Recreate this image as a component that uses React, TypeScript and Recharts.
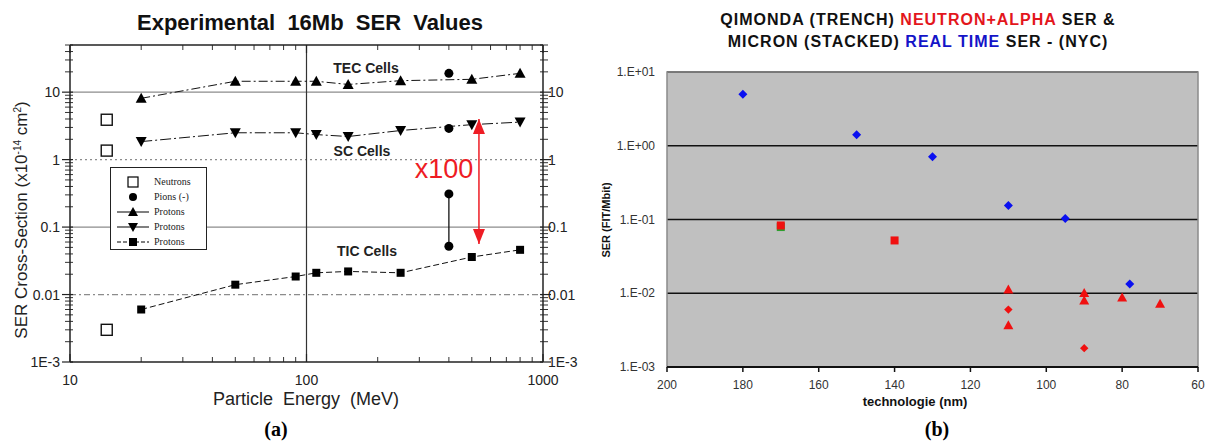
import React from 'react';
import {
  ScatterChart, Scatter, XAxis, YAxis, CartesianGrid, ReferenceLine, ReferenceArea,
} from 'recharts';

// ---- panel (a): experimental 16Mb SER values vs particle energy ----
const NEUTRON_E = [14.3, 14.3, 14.3];
const NEUTRON_SER = [3.9, 1.36, 0.003];

const PROTON_E = [20, 50, 90, 110, 150, 250, 500, 800];
const TEC_SER = [8.1, 14.5, 14.5, 14.5, 13, 14.8, 15.5, 19];
const SC_SER = [1.85, 2.5, 2.5, 2.35, 2.2, 2.7, 3.3, 3.6];
const TIC_SER = [0.006, 0.014, 0.0185, 0.021, 0.022, 0.021, 0.036, 0.046];

const PION_E = [400, 400];
const PION_SER = [19, 2.9];
const PION_TIC_SER = [0.31, 0.052];

const ARROW_E = [536, 536];
const ARROW_SER = [4.0, 0.056];

const A_X_TICKS = [10, 100, 1000];
const A_X_LABELS = ['10', '100', '1000'];
const A_Y_TICKS = [0.001, 0.01, 0.1, 1, 10];
const A_Y_LABELS = ['1E-3', '0.01', '0.1', '1', '10'];
const A_Y_GRID = [0.01, 0.1, 1, 10];
const A_GRID_DASH = ['6 3 2 3', '', '2 3', ''];
const MINOR_MULT = [2, 3, 4, 5, 6, 7, 8, 9];

// ---- panel (b): Qimonda / Micron SER vs technology node ----
const MICRON_NM = [180, 150, 130, 110, 95, 78];
const MICRON_SER = [5.0, 1.41, 0.71, 0.155, 0.103, 0.0133];
const QIM_SQ_NM = [170, 140];
const QIM_SQ_SER = [0.083, 0.052];
const GREEN_NM = [170];
const GREEN_SER = [0.079];
const QIM_TRI_NM = [110, 110, 90, 90, 80, 70];
const QIM_TRI_SER = [0.0113, 0.0037, 0.0101, 0.008, 0.0088, 0.0072];
const QIM_DIA_NM = [110, 90];
const QIM_DIA_SER = [0.006, 0.0018];

const B_X_TICKS = [200, 180, 160, 140, 120, 100, 80, 60];
const B_Y_TICKS = [0.001, 0.01, 0.1, 1, 10];
const B_Y_LABELS = ['1.E-03', '1.E-02', '1.E-01', '1.E+00', '1.E+01'];

const zip = (xs: number[], ys: number[]) => xs.map((x, i) => ({ x, y: ys[i] }));

const minors = (decades: number[], hi: number) => {
  const out: number[] = [];
  decades.forEach(d => MINOR_MULT.forEach(m => {
    const v = +(d * m).toPrecision(6);
    if (v < hi) out.push(v);
  }));
  return out;
};
const A_X_MINOR = minors([10, 100], 1000);
const A_Y_MINOR = minors([0.001, 0.01, 0.1, 1, 10], 50.01);

const SANS = '"Liberation Sans", Arial, sans-serif';
const SERIF = '"Liberation Serif", "Times New Roman", serif';

// ---- marker shapes ----
const openSquare = (p: any) => (
  <rect x={p.cx - 5.5} y={p.cy - 5.5} width={11} height={11} fill="#fff" stroke="#111" strokeWidth={1.4} />
);
const square = (s: number, color: string) => (p: any) => (
  <rect x={p.cx - s / 2} y={p.cy - s / 2} width={s} height={s} fill={color} />
);
const dot = (r: number, color: string) => (p: any) => <circle cx={p.cx} cy={p.cy} r={r} fill={color} />;
const triUp = (w: number, h: number, color: string) => (p: any) => (
  <polygon points={`${p.cx},${p.cy - h * 0.55} ${p.cx + w / 2},${p.cy + h * 0.45} ${p.cx - w / 2},${p.cy + h * 0.45}`} fill={color} />
);
const triDown = (w: number, h: number, color: string) => (p: any) => (
  <polygon points={`${p.cx},${p.cy + h * 0.55} ${p.cx + w / 2},${p.cy - h * 0.45} ${p.cx - w / 2},${p.cy - h * 0.45}`} fill={color} />
);
const diamond = (r: number, color: string) => (p: any) => (
  <polygon points={`${p.cx},${p.cy - r} ${p.cx + r},${p.cy} ${p.cx},${p.cy + r} ${p.cx - r},${p.cy}`} fill={color} />
);
const none = () => <g />;
// arrow heads: point sits at the tip
const headUp = (p: any) => (
  <polygon points={`${p.cx},${p.cy} ${p.cx + 6},${p.cy + 15} ${p.cx - 6},${p.cy + 15}`} fill="#ee1c24" />
);
const headDown = (p: any) => (
  <polygon points={`${p.cx},${p.cy} ${p.cx + 6},${p.cy - 15} ${p.cx - 6},${p.cy - 15}`} fill="#ee1c24" />
);

// minor ticks drawn as short stubs at both ends of a reference line
const stubH = (p: any) => {
  const xa = Math.min(p.x1, p.x2), xb = Math.max(p.x1, p.x2);
  return (
    <g stroke="#333" strokeWidth={1}>
      <line x1={xa - 5} x2={xa + 3} y1={p.y1} y2={p.y1} />
      <line x1={xb - 3} x2={xb + 5} y1={p.y1} y2={p.y1} />
    </g>
  );
};
const stubV = (p: any) => {
  const ya = Math.min(p.y1, p.y2), yb = Math.max(p.y1, p.y2);
  return (
    <g stroke="#333" strokeWidth={1}>
      <line x1={p.x1} x2={p.x1} y1={ya} y2={ya + 5} />
      <line x1={p.x1} x2={p.x1} y1={yb} y2={yb - 5} />
    </g>
  );
};

// ---- custom ticks ----
const tickStyle = { fontFamily: SANS, fontSize: 14, fill: '#222' };

const TickLeftA = (props: any) => {
  const { x, y, payload } = props;
  const i = A_Y_TICKS.indexOf(payload.value);
  return (
    <g>
      <line x1={x - 8} x2={x + 3} y1={y} y2={y} stroke="#222" strokeWidth={1.2} />
      <text x={x - 10} y={y} textAnchor="end" dominantBaseline="central" {...tickStyle}>{A_Y_LABELS[i]}</text>
    </g>
  );
};
const TickRightA = (props: any) => {
  const { x, y, payload } = props;
  const i = A_Y_TICKS.indexOf(payload.value);
  return (
    <g>
      <line x1={x - 3} x2={x + 8} y1={y} y2={y} stroke="#222" strokeWidth={1.2} />
      <text x={x + 5} y={y} textAnchor="start" dominantBaseline="central" {...tickStyle}>{A_Y_LABELS[i]}</text>
    </g>
  );
};
const TickBottomA = (props: any) => {
  const { x, y, payload } = props;
  const i = A_X_TICKS.indexOf(payload.value);
  return (
    <g>
      <line x1={x} x2={x} y1={y} y2={y - 8} stroke="#222" strokeWidth={1.2} />
      <text x={x} y={y + 18} textAnchor="middle" dominantBaseline="central" {...tickStyle}>{A_X_LABELS[i]}</text>
    </g>
  );
};
const TickTopA = (props: any) => {
  const { x, y } = props;
  return <line x1={x} x2={x} y1={y} y2={y + 8} stroke="#222" strokeWidth={1.2} />;
};

const TickLeftB = (props: any) => {
  const { x, y, payload } = props;
  const i = B_Y_TICKS.indexOf(payload.value);
  return (
    <text x={x - 12} y={y} textAnchor="end" dominantBaseline="central" fontFamily={SANS} fontSize={12} fill="#333">
      {i >= 0 ? B_Y_LABELS[i] : ''}
    </text>
  );
};
const TickBottomB = (props: any) => {
  const { x, y, payload } = props;
  return (
    <g>
      <line x1={x} x2={x} y1={y} y2={y + 5} stroke="#111" strokeWidth={1.5} />
      <text x={x} y={y + 18} textAnchor="middle" dominantBaseline="central" fontFamily={SANS} fontSize={12} fill="#333">
        {payload.value}
      </text>
    </g>
  );
};

const abs = (left: number, top: number, extra: React.CSSProperties = {}): React.CSSProperties => ({
  position: 'absolute', left, top, transform: 'translate(-50%, -50%)', whiteSpace: 'pre', ...extra,
});

function LegendIcon({ kind }: { kind: string }) {
  return (
    <svg width={36} height={12} style={{ display: 'block' }}>
      {kind.startsWith('line') && <line x1={2} x2={34} y1={6} y2={6} stroke="#000" strokeWidth={1} strokeDasharray={kind === 'lineSq' ? '4 2' : undefined} />}
      {kind === 'open' && <rect x={13} y={1} width={10} height={10} fill="#fff" stroke="#000" strokeWidth={1.2} />}
      {kind === 'dot' && <circle cx={18} cy={6} r={4} fill="#000" />}
      {kind === 'lineUp' && <polygon points="18,1 23,10 13,10" fill="#000" />}
      {kind === 'lineDown' && <polygon points="18,11 23,2 13,2" fill="#000" />}
      {kind === 'lineSq' && <rect x={14} y={2} width={8} height={8} fill="#000" />}
    </svg>
  );
}

const LEGEND_ROWS = [
  { kind: 'open', text: 'Neutrons' },
  { kind: 'dot', text: 'Pions (-)' },
  { kind: 'lineUp', text: 'Protons' },
  { kind: 'lineDown', text: 'Protons' },
  { kind: 'lineSq', text: 'Protons' },
];

function PanelA() {
  return (
    <ScatterChart width={600} height={444} margin={{ top: 44, right: 17, bottom: 52, left: 30 }}>
      <XAxis xAxisId="b" dataKey="x" type="number" scale="log" domain={[10, 1000]} allowDataOverflow
        ticks={A_X_TICKS} interval={0} orientation="bottom" height={30} tickSize={0} tickMargin={0}
        tickLine={false} axisLine={{ stroke: '#222', strokeWidth: 1.5 }} tick={TickBottomA} />
      <XAxis xAxisId="t" dataKey="x" type="number" scale="log" domain={[10, 1000]} allowDataOverflow
        ticks={A_X_TICKS} interval={0} orientation="top" height={1} tickSize={0} tickMargin={0}
        tickLine={false} axisLine={{ stroke: '#222', strokeWidth: 1.5 }} tick={TickTopA} />
      <YAxis yAxisId="l" dataKey="y" type="number" scale="log" domain={[0.001, 50]} allowDataOverflow
        ticks={A_Y_TICKS} interval={0} orientation="left" width={40} tickSize={0} tickMargin={0}
        tickLine={false} axisLine={{ stroke: '#222', strokeWidth: 1.5 }} tick={TickLeftA} />
      <YAxis yAxisId="r" dataKey="y" type="number" scale="log" domain={[0.001, 50]} allowDataOverflow
        ticks={A_Y_TICKS} interval={0} orientation="right" width={40} tickSize={0} tickMargin={0}
        tickLine={false} axisLine={{ stroke: '#222', strokeWidth: 1.5 }} tick={TickRightA} />
      {A_Y_GRID.map((v, i) => (
        <ReferenceLine key={v} xAxisId="b" yAxisId="l" y={v} stroke="#8c8c8c" strokeWidth={1.2}
          strokeDasharray={A_GRID_DASH[i] || undefined} />
      ))}
      <ReferenceLine xAxisId="b" yAxisId="l" x={100} stroke="#333" strokeWidth={1.2} />
      {A_Y_MINOR.map(v => (
        <ReferenceLine key={'my' + v} xAxisId="b" yAxisId="l" y={v} shape={stubH} />
      ))}
      {A_X_MINOR.map(v => (
        <ReferenceLine key={'mx' + v} xAxisId="b" yAxisId="l" x={v} shape={stubV} />
      ))}

      <Scatter xAxisId="b" yAxisId="l" data={zip(PROTON_E, TEC_SER)} shape={triUp(11, 10, '#000')}
        line={{ stroke: '#111', strokeWidth: 1, strokeDasharray: '9 3 2 3' }} isAnimationActive={false} />
      <Scatter xAxisId="b" yAxisId="l" data={zip(PROTON_E, SC_SER)} shape={triDown(11, 10, '#000')}
        line={{ stroke: '#111', strokeWidth: 1, strokeDasharray: '11 3 2 3' }} isAnimationActive={false} />
      <Scatter xAxisId="b" yAxisId="l" data={zip(PROTON_E, TIC_SER)} shape={square(8, '#000')}
        line={{ stroke: '#111', strokeWidth: 1, strokeDasharray: '6 3' }} isAnimationActive={false} />
      <Scatter xAxisId="b" yAxisId="l" data={zip(PION_E, PION_SER)} shape={dot(4.5, '#000')} isAnimationActive={false} />
      <Scatter xAxisId="b" yAxisId="l" data={zip(PION_E, PION_TIC_SER)} shape={dot(4.5, '#000')}
        line={{ stroke: '#111', strokeWidth: 1.3 }} isAnimationActive={false} />
      <Scatter xAxisId="b" yAxisId="l" data={zip(NEUTRON_E, NEUTRON_SER)} shape={openSquare} isAnimationActive={false} />

      <Scatter xAxisId="b" yAxisId="l" data={zip(ARROW_E, ARROW_SER)} shape={none}
        line={{ stroke: '#ee1c24', strokeWidth: 1.5 }} isAnimationActive={false} />
      <Scatter xAxisId="b" yAxisId="l" data={zip(ARROW_E.slice(0, 1), ARROW_SER.slice(0, 1))} shape={headUp} isAnimationActive={false} />
      <Scatter xAxisId="b" yAxisId="l" data={zip(ARROW_E.slice(1), ARROW_SER.slice(1))} shape={headDown} isAnimationActive={false} />
    </ScatterChart>
  );
}

function PanelB() {
  return (
    <ScatterChart width={608} height={444} margin={{ top: 72, right: 10, bottom: 47, left: 27 }}>
      <CartesianGrid fill="#c0c0c0" fillOpacity={1} vertical={false} stroke="#111" strokeWidth={1.3} />
      <XAxis dataKey="x" type="number" domain={[60, 200]} reversed ticks={B_X_TICKS} interval={0}
        height={30} tickSize={0} tickMargin={0} tickLine={false}
        axisLine={{ stroke: '#111', strokeWidth: 2 }} tick={TickBottomB} allowDataOverflow />
      <YAxis dataKey="y" type="number" scale="log" domain={[0.001, 10]} allowDataOverflow ticks={B_Y_TICKS}
        interval={0} width={40} tickSize={0} tickMargin={0} tickLine={false} axisLine={false} tick={TickLeftB} />
      <ReferenceArea x1={60} x2={200} y1={0.001} y2={10} fill="none" stroke="#8a8a8a" strokeWidth={1.5} />
      <Scatter data={zip(GREEN_NM, GREEN_SER)} shape={square(8, '#2e9e2e')} isAnimationActive={false} />
      <Scatter data={zip(QIM_SQ_NM, QIM_SQ_SER)} shape={square(8, '#f01010')} isAnimationActive={false} />
      <Scatter data={zip(QIM_TRI_NM, QIM_TRI_SER)} shape={triUp(10, 9, '#f01010')} isAnimationActive={false} />
      <Scatter data={zip(QIM_DIA_NM, QIM_DIA_SER)} shape={diamond(4.2, '#f01010')} isAnimationActive={false} />
      <Scatter data={zip(MICRON_NM, MICRON_SER)} shape={diamond(4.5, '#0a10f0')} isAnimationActive={false} />
    </ScatterChart>
  );
}

export default function App() {
  return (
    <div style={{ position: 'absolute', left: 0, top: 0, width: 1208, height: 444, background: '#fff', overflow: 'hidden', fontFamily: SANS }}>
      <div style={{ position: 'absolute', left: 0, top: 0 }}><PanelA /></div>
      <div style={{ position: 'absolute', left: 600, top: 0 }}><PanelB /></div>

      {/* panel (a) texts */}
      <div style={abs(310, 23, { fontSize: 22, fontWeight: 'bold', color: '#111' })}>Experimental  16Mb  SER  Values</div>
      <div style={abs(22, 220, { fontSize: 17, color: '#222', transform: 'translate(-50%, -50%) rotate(-90deg)' })}>
        SER Cross-Section (x10<sup style={{ fontSize: 10 }}>-14</sup> cm<sup style={{ fontSize: 10 }}>2</sup>)
      </div>
      <div style={abs(306, 399, { fontSize: 18, color: '#222' })}>Particle  Energy  (MeV)</div>
      <div style={abs(276, 429, { fontSize: 20, fontWeight: 'bold', fontFamily: SERIF, color: '#000' })}>(a)</div>
      <div style={abs(366, 68, { fontSize: 14, fontWeight: 'bold', color: '#222' })}>TEC Cells</div>
      <div style={abs(362, 151, { fontSize: 14, fontWeight: 'bold', color: '#222' })}>SC Cells</div>
      <div style={abs(367, 251, { fontSize: 14, fontWeight: 'bold', color: '#222' })}>TIC Cells</div>
      <div style={abs(444, 169, { fontSize: 27, color: '#ee1c24' })}>x100</div>
      <div style={{ position: 'absolute', left: 110, top: 167, width: 97, height: 83, border: '1px solid #222', background: '#fff', boxSizing: 'border-box', paddingTop: 6 }}>
        {LEGEND_ROWS.map((r, i) => (
          <div key={i} style={{ display: 'flex', alignItems: 'center', height: 15, paddingLeft: 4 }}>
            <LegendIcon kind={r.kind} />
            <span style={{ fontFamily: SERIF, fontSize: 10, color: '#222', marginLeft: 3 }}>{r.text}</span>
          </div>
        ))}
      </div>

      {/* panel (b) texts */}
      <div style={abs(918, 20, { fontSize: 16, fontWeight: 'bold', letterSpacing: 1, color: '#111' })}>
        QIMONDA (TRENCH) <span style={{ color: '#e3161c' }}>NEUTRON+ALPHA</span> SER &amp;
      </div>
      <div style={abs(918, 42, { fontSize: 16, fontWeight: 'bold', letterSpacing: 1, color: '#111' })}>
        MICRON (STACKED) <span style={{ color: '#1414c8' }}>REAL TIME</span> SER - (NYC)
      </div>
      <div style={abs(606, 220, { fontSize: 11, fontWeight: 'bold', color: '#111', transform: 'translate(-50%, -50%) rotate(-90deg)' })}>SER (FIT/Mbit)</div>
      <div style={abs(915, 401, { fontSize: 13, fontWeight: 'bold', color: '#111' })}>technologie (nm)</div>
      <div style={abs(937, 429, { fontSize: 20, fontWeight: 'bold', fontFamily: SERIF, color: '#000' })}>(b)</div>
    </div>
  );
}
